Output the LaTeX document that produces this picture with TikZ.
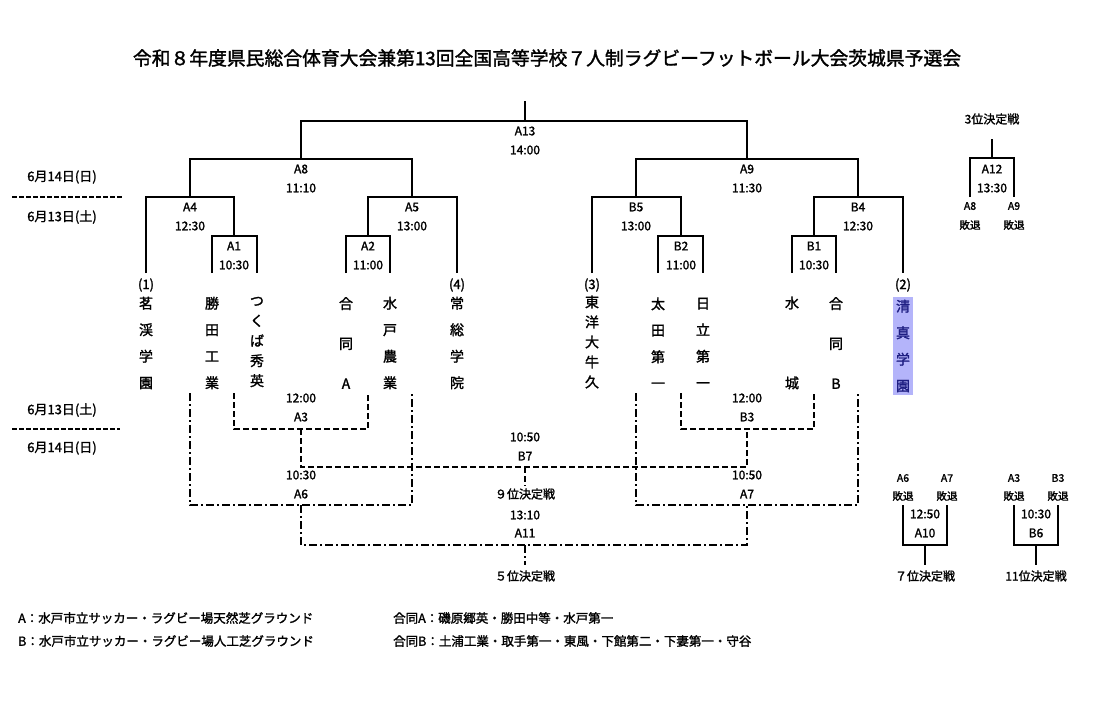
\documentclass[tikz,border=0pt]{standalone}
\usepackage{fontspec}
\setmainfont{Noto Sans CJK JP}[FakeBold=1.6]
\definecolor{hlfill}{RGB}{180,180,250}
\definecolor{hltext}{RGB}{30,30,130}

\begin{document}
\begin{tikzpicture}[x=1pt, y=-1pt,
		w/.style = {line width=2pt},
		ds/.style = {line width=2pt, dash pattern=on 6pt off 3pt},
		dd/.style = {line width=2pt, dash pattern=on 8pt off 3pt on 2pt off 3pt},
		datesep/.style = {line width=1.3pt, dash pattern=on 5pt off 2pt},
		t/.style = {inner sep=0, font=\fontsize{12}{12}\selectfont},
		sm/.style = {inner sep=0, font=\fontsize{10.5}{10.5}\selectfont},
		dt/.style = {inner sep=0, font=\fontsize{13}{13}\selectfont},
		lg/.style = {inner sep=0, anchor=west, font=\fontsize{12.5}{12.5}\selectfont},
		n/.style = {inner sep=0, align=center, font=\fontsize{14}{#1}\selectfont},
		n/.default = 26.5
		]
		\useasboundingbox (0,0) rectangle (1097,715);
		
		%Title
		\node[inner sep=0, font=\fontsize{18.8}{18.8}\selectfont]	(title)	at	(547, 58)	{令和８年度県民総合体育大会兼第13回全国高等学校７人制ラグビーフットボール大会茨城県予選会};
		
		%Dates
		\node[dt]	(d1)	at	(62, 177)	{6月14日(日)};
		\node[dt]	(d2)	at	(62, 217)	{6月13日(土)};
		\node[dt]	(d3)	at	(62, 410)	{6月13日(土)};
		\node[dt]	(d4)	at	(62, 448)	{6月14日(日)};
		\coordinate	(c1)	at	(12, 197);
		\coordinate	(c2)	at	(122, 197);
		\coordinate	(c3)	at	(12, 429);
		\coordinate	(c4)	at	(120, 429);
		
		%Matches
		\node[t]	(lA13)	at	(525, 131)	{A13};
		\node[t]	(tA13)	at	(525, 150)	{14:00};
		\node[t]	(lA8)	at	(301, 169)	{A8};
		\node[t]	(tA8)	at	(301, 188)	{11:10};
		\node[t]	(lA9)	at	(747, 169)	{A9};
		\node[t]	(tA9)	at	(747, 188)	{11:30};
		\node[t]	(lA4)	at	(190, 207)	{A4};
		\node[t]	(tA4)	at	(190, 226)	{12:30};
		\node[t]	(lA5)	at	(412, 207)	{A5};
		\node[t]	(tA5)	at	(412, 226)	{13:00};
		\node[t]	(lB5)	at	(636, 207)	{B5};
		\node[t]	(tB5)	at	(636, 226)	{13:00};
		\node[t]	(lB4)	at	(858, 207)	{B4};
		\node[t]	(tB4)	at	(858, 226)	{12:30};
		\node[t]	(lA1)	at	(234, 246)	{A1};
		\node[t]	(tA1)	at	(234, 265)	{10:30};
		\node[t]	(lA2)	at	(368, 246)	{A2};
		\node[t]	(tA2)	at	(368, 265)	{11:00};
		\node[t]	(lB2)	at	(681, 246)	{B2};
		\node[t]	(tB2)	at	(681, 265)	{11:00};
		\node[t]	(lB1)	at	(814, 246)	{B1};
		\node[t]	(tB1)	at	(814, 265)	{10:30};
		
		%Seeds
		\node[dt]	(s1)	at	(146, 285)	{(1)};
		\node[dt]	(s4)	at	(457, 285)	{(4)};
		\node[dt]	(s3)	at	(592, 285)	{(3)};
		\node[dt]	(s2)	at	(903, 285)	{(2)};
		
		%Teams
		\node[n]		(n1)	at	(146, 343)	{茗\\渓\\学\\園};
		\node[n]		(n2)	at	(212, 343)	{勝\\田\\工\\業};
		\node[n=20]		(n3)	at	(257, 342)	{つ\\く\\ば\\秀\\英};
		\node[n=40]		(n4)	at	(346, 343)	{合\\同\\A};
		\node[n]		(n5)	at	(390, 343)	{水\\戸\\農\\業};
		\node[n]		(n6)	at	(457, 343)	{常\\総\\学\\院};
		\node[n=20]		(n7)	at	(592, 342)	{東\\洋\\大\\牛\\久};
		\node[n]		(n8)	at	(658, 343)	{太\\田\\第\\一};
		\node[n]		(n9)	at	(703, 343)	{日\\立\\第\\一};
		\node[n=80]		(n10)	at	(792, 343)	{水\\城};
		\node[n=40]		(n11)	at	(836, 343)	{合\\同\\B};
		\node[n, fill=hlfill, text=hltext, minimum width=20, minimum height=98]	(n12)	at	(903, 346)	{清\\真\\学\\園};
		
		%Lower matches
		\node[t]	(tA3)	at	(301, 398)	{12:00};
		\node[t]	(lA3)	at	(301, 417)	{A3};
		\node[t]	(tB3)	at	(747, 398)	{12:00};
		\node[t]	(lB3)	at	(747, 417)	{B3};
		\node[t]	(tB7)	at	(525, 437)	{10:50};
		\node[t]	(lB7)	at	(525, 456)	{B7};
		\node[t]	(tA6)	at	(301, 475)	{10:30};
		\node[t]	(lA6)	at	(301, 494)	{A6};
		\node[t]	(tA7)	at	(747, 475)	{10:50};
		\node[t]	(lA7)	at	(747, 494)	{A7};
		\node[t]	(p9)	at	(525, 494)	{９位決定戦};
		\node[t]	(tA11)	at	(525, 515)	{13:10};
		\node[t]	(lA11)	at	(525, 533)	{A11};
		\node[t]	(p5)	at	(525, 576)	{５位決定戦};
		
		%Side matches
		\node[t]	(p3)	at	(992, 119)	{3位決定戦};
		\node[t]	(lA12)	at	(992, 169)	{A12};
		\node[t]	(tA12)	at	(992, 188)	{13:30};
		\node[sm]	(q1)	at	(970, 206)	{A8};
		\node[sm]	(q1b)	at	(970, 225)	{敗退};
		\node[sm]	(q2)	at	(1014, 206)	{A9};
		\node[sm]	(q2b)	at	(1014, 225)	{敗退};
		
		\node[sm]	(q3)	at	(903, 478)	{A6};
		\node[sm]	(q3b)	at	(903, 496)	{敗退};
		\node[sm]	(q4)	at	(947, 478)	{A7};
		\node[sm]	(q4b)	at	(947, 496)	{敗退};
		\node[t]	(tA10)	at	(925, 514)	{12:50};
		\node[t]	(lA10)	at	(925, 533)	{A10};
		\node[t]	(p7)	at	(925, 576)	{７位決定戦};
		
		\node[sm]	(q5)	at	(1014, 478)	{A3};
		\node[sm]	(q5b)	at	(1014, 496)	{敗退};
		\node[sm]	(q6)	at	(1058, 478)	{B3};
		\node[sm]	(q6b)	at	(1058, 496)	{敗退};
		\node[t]	(tB6)	at	(1036, 514)	{10:30};
		\node[t]	(lB6)	at	(1036, 533)	{B6};
		\node[t]	(p11)	at	(1036, 576)	{11位決定戦};
		
		%Legend
		\node[lg]	(g1)	at	(18, 618)	{A：水戸市立サッカー・ラグビー場天然芝グラウンド};
		\node[lg]	(g2)	at	(18, 641)	{B：水戸市立サッカー・ラグビー場人工芝グラウンド};
		\node[lg]	(g3)	at	(393, 618)	{合同A：磯原郷英・勝田中等・水戸第一};
		\node[lg]	(g4)	at	(393, 641)	{合同B：土浦工業・取手第一・東風・下館第二・下妻第一・守谷};
		
		%Points
		\coordinate	(top)	at	(525, 101);
		\coordinate	(mA13)	at	(525, 121);
		\coordinate	(mA8)	at	(301, 159);
		\coordinate	(mA9)	at	(747, 159);
		\coordinate	(mA4)	at	(190, 197);
		\coordinate	(mA5)	at	(412, 197);
		\coordinate	(mB5)	at	(636, 197);
		\coordinate	(mB4)	at	(858, 197);
		\coordinate	(mA1)	at	(234, 236);
		\coordinate	(mA2)	at	(368, 236);
		\coordinate	(mB2)	at	(681, 236);
		\coordinate	(mB1)	at	(814, 236);
		
		\coordinate	(l1)	at	(146, 273);
		\coordinate	(l2)	at	(212, 273);
		\coordinate	(l3)	at	(257, 273);
		\coordinate	(l4)	at	(346, 273);
		\coordinate	(l5)	at	(390, 273);
		\coordinate	(l6)	at	(457, 273);
		\coordinate	(l7)	at	(592, 273);
		\coordinate	(l8)	at	(658, 273);
		\coordinate	(l9)	at	(703, 273);
		\coordinate	(l10)	at	(792, 273);
		\coordinate	(l11)	at	(836, 273);
		\coordinate	(l12)	at	(903, 273);
		
		\coordinate	(b1)	at	(190, 393);
		\coordinate	(b2)	at	(234, 393);
		\coordinate	(b3)	at	(368, 393);
		\coordinate	(b4)	at	(412, 393);
		\coordinate	(b5)	at	(636, 393);
		\coordinate	(b6)	at	(681, 393);
		\coordinate	(b7)	at	(814, 393);
		\coordinate	(b8)	at	(858, 393);
		\coordinate	(mA3)	at	(301, 429);
		\coordinate	(mB3)	at	(747, 429);
		\coordinate	(mB7)	at	(525, 467);
		\coordinate	(e9)	at	(525, 486);
		\coordinate	(mA6)	at	(301, 505);
		\coordinate	(mA7)	at	(747, 505);
		\coordinate	(mA11)	at	(525, 545);
		\coordinate	(e5)	at	(525, 565);
		
		\coordinate	(e3)	at	(992, 139);
		\coordinate	(mA12)	at	(992, 158);
		\coordinate	(k1)	at	(970, 197);
		\coordinate	(k2)	at	(1014, 197);
		\coordinate	(k3)	at	(903, 505);
		\coordinate	(k4)	at	(947, 505);
		\coordinate	(mA10)	at	(925, 545);
		\coordinate	(e7)	at	(925, 565);
		\coordinate	(k5)	at	(1014, 505);
		\coordinate	(k6)	at	(1058, 505);
		\coordinate	(mB6)	at	(1036, 545);
		\coordinate	(e11)	at	(1036, 565);
		
		%Lines
		\draw[datesep]	(c1)	--	(c2);
		\draw[datesep]	(c3)	--	(c4);
		
		\draw[w]	(top)	--	(mA13);
		\draw[w]	(mA8)	|-	(mA13)	-|	(mA9);
		\draw[w]	(mA4)	|-	(mA8)	-|	(mA5);
		\draw[w]	(mB5)	|-	(mA9)	-|	(mB4);
		\draw[w]	(l1)	|-	(mA4)	-|	(mA1);
		\draw[w]	(mA2)	|-	(mA5)	-|	(l6);
		\draw[w]	(l7)	|-	(mB5)	-|	(mB2);
		\draw[w]	(mB1)	|-	(mB4)	-|	(l12);
		\draw[w]	(l2)	|-	(mA1)	-|	(l3);
		\draw[w]	(l4)	|-	(mA2)	-|	(l5);
		\draw[w]	(l8)	|-	(mB2)	-|	(l9);
		\draw[w]	(l10)	|-	(mB1)	-|	(l11);
		
		\draw[ds]	(b2)	|-	(mA3)	-|	(b3);
		\draw[ds]	(b6)	|-	(mB3)	-|	(b7);
		\draw[ds]	(mA3)	|-	(mB7)	-|	(mB3);
		\draw[ds]	(mB7)	--	(e9);
		
		\draw[dd]	(b1)	|-	(mA6)	-|	(b4);
		\draw[dd]	(b5)	|-	(mA7)	-|	(b8);
		\draw[dd]	(mA6)	|-	(mA11)	-|	(mA7);
		\draw[dd]	(mA11)	--	(e5);
		
		\draw[w]	(e3)	--	(mA12);
		\draw[w]	(k1)	|-	(mA12)	-|	(k2);
		\draw[w]	(k3)	|-	(mA10)	-|	(k4);
		\draw[w]	(mA10)	--	(e7);
		\draw[w]	(k5)	|-	(mB6)	-|	(k6);
		\draw[w]	(mB6)	--	(e11);
	\end{tikzpicture}
\end{document}
